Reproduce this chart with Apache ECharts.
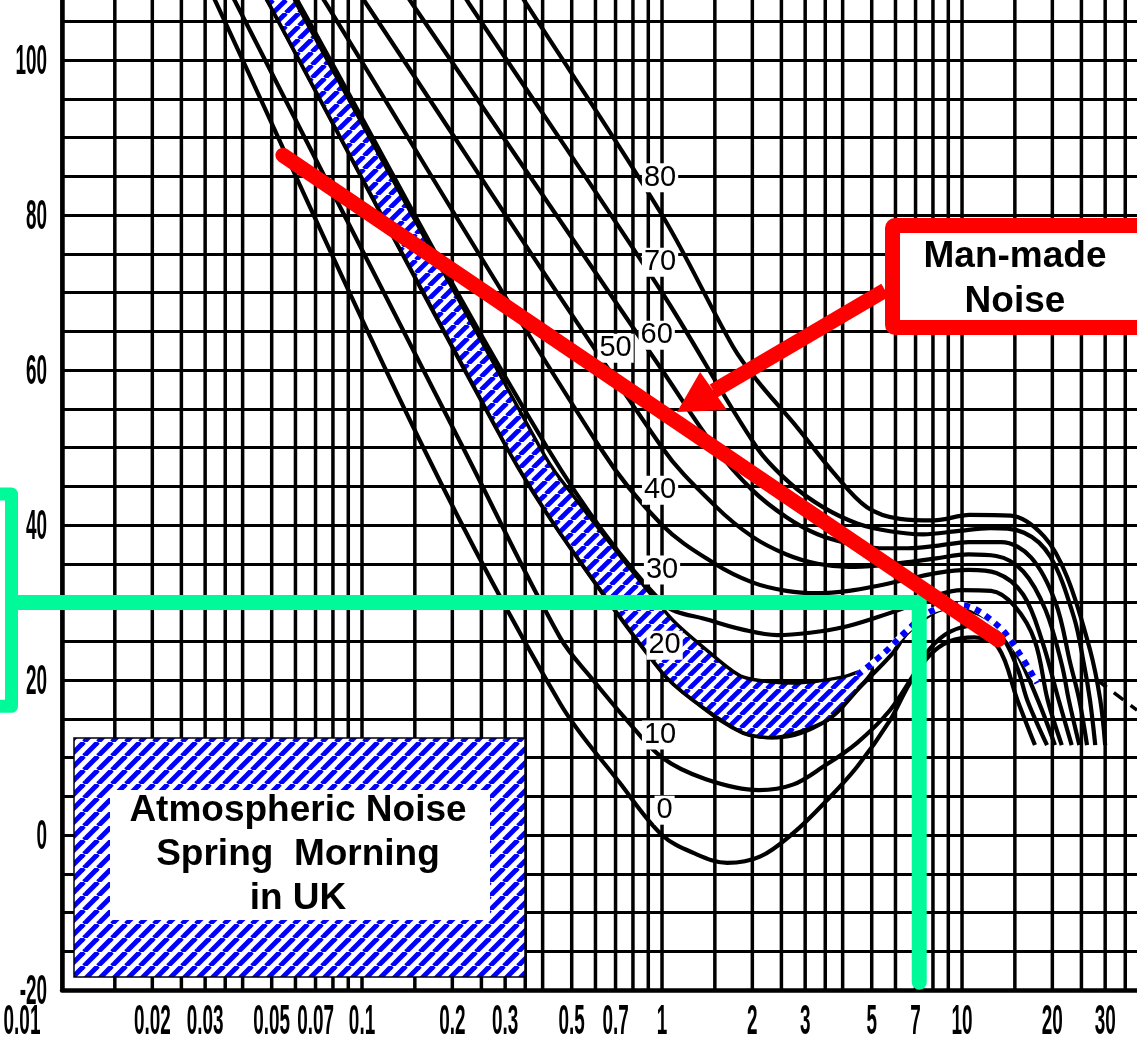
<!DOCTYPE html>
<html><head><meta charset="utf-8">
<script src="https://cdn.jsdelivr.net/npm/echarts@6/dist/echarts.min.js"></script>
<style>html,body{margin:0;padding:0;background:#fff}#c{width:1137px;height:1050px}</style>
</head><body><div id="c"></div>
<script>
// ---------- axis / tick data ----------
const yTicks = [-20, 0, 20, 40, 60, 80, 100];
const xTickValues = [0.01,0.02,0.03,0.05,0.07,0.1,0.2,0.3,0.5,0.7,1,2,3,5,7,10,20,30];
const xTickLabels = ['0.01','0.02','0.03','0.05','0.07','0.1','0.2','0.3','0.5','0.7','1','2','3','5','7','10','20','30'];
const gridMultipliers = [1,1.5,2,2.5,3,3.5,4,5,6,7,8,9];
const gridDecades = [0.01,0.1,1,10];

// ---------- noise curves (frequency MHz, dB) ----------
const curve0  = [[0.0304,110],[0.0329,107.1],[0.16,50],[0.457,17],[0.724,6.7],[1.0,0],[1.27,-2.3],[1.65,-3.6],[2.12,-2.8],[2.73,0.2],[3.55,4.5],[4.47,8.8],[5.75,14.8],[6.7,19.6],[7.8,23.2],[9.1,25],[11,25.5],[13.2,24.2],[15.3,17.4],[17.5,11.6]];
const curve10 = [[0.035,110],[0.0383,107.1],[0.217,50],[0.457,25.5],[0.589,20],[0.764,14.8],[1.0,10],[1.4,7.2],[2.1,5.8],[2.73,6.5],[3.44,8.8],[4.47,11.9],[5.75,16.1],[6.85,20.5],[7.8,24],[9.1,26.2],[11,27],[13.4,25.8],[15.3,21.5],[16.5,17.4],[19.2,11.6]];
const curve20 = [[0.045,110],[0.0493,107.1],[0.304,50],[0.457,39],[1.0,21],[1.27,17.4],[1.86,13.2],[2.42,12.6],[3.55,14.8],[4.57,19.1],[5.89,23.5],[6.54,26.0],[7.8,28.4],[8.9,29.2],[10.1,29.1],[12.7,27.4],[15.0,23.9],[17.9,17.4],[20.4,11.6]];
const curve30 = [[0.0564,110],[0.0621,107.1],[0.414,50],[1.0,30],[1.445,27.7],[1.86,26.5],[2.42,25.8],[3.11,26.1],[4.01,26.8],[5.21,28.1],[6.54,29.4],[8,30.8],[10,31.6],[12.5,31.5],[15,29.5],[17.5,25],[19.3,17.4],[21.5,11.6]];
const curve40 = [[0.0686,110],[0.0764,107.1],[0.621,50],[1.0,40],[1.5,35],[2.0,32.6],[2.6,31.5],[3.3,31.2],[4.2,31.5],[5.3,32.2],[6.6,33],[8.2,33.8],[10.5,34.2],[13,33.8],[16,31],[18.5,25],[21,17.4],[23.2,11.6]];
const curve50 = [[0.0927,110],[0.104,107.1],[1.0,50],[1.5,42.5],[2.0,38.5],[2.6,36.2],[3.3,35],[4.2,34.6],[5.3,34.8],[6.6,35.2],[8.2,35.7],[10.5,36.2],[13,36],[16,34],[19,29],[21.5,22],[22.7,17.4],[24.6,11.6]];
const curve60 = [[0.132,110],[0.148,107.1],[1.0,60],[1.5,50],[2.0,44.5],[2.6,41],[3.3,38.8],[4.2,37.6],[5.3,37],[6.6,37],[8.2,37.3],[10.5,37.8],[13.5,37.8],[17,35.8],[20.5,30],[23,22],[24.6,17.4],[26.1,11.6]];
const curve70 = [[0.206,110],[0.229,107.1],[1.0,70],[2.07,50],[2.67,45.4],[3.44,42.3],[4.47,40.2],[5.75,39.2],[7.41,38.8],[9.62,39.2],[12.4,39.6],[16.1,39],[19.7,35.9],[23.6,28.1],[25.5,22],[26.7,17.4],[27.8,11.6]];
const curve80 = [[0.318,110],[0.355,107.1],[1.0,80],[1.725,63],[2.07,58.7],[2.82,52.6],[3.74,46.7],[4.82,42.3],[6.21,40.8],[8.07,40.6],[10.6,41.3],[14.5,41.2],[18.8,38.5],[22.4,33.3],[26.7,23.9],[28.9,17.4],[30.0,11.6]];
const rightDash = [[28.2,20],[38.3,16.1]];

// curve labels
const curveLabelText = ['0','10','20','30','40','50','60','70','80'];
const curveLabelPos  = [[1.02,3.2],[0.985,12.9],[1.02,24.5],[1.0,34.2],[0.985,44.5],[0.70,62.8],[0.96,64.5],[0.985,73.9],[0.985,84.8]];

// atmospheric noise band (spring morning, UK)
const bandUpper = [[0.0552,110],[0.0607,107.1],[0.392,50],[0.457,46],[1.063,28.1],[1.445,23.5],[1.86,20.4],[2.73,19.6],[4.01,20.4],[5.0,21.6]];
const bandLower = [[0.045,110],[0.0493,107.1],[0.304,50],[0.457,39],[1.0,21],[1.27,17.4],[1.86,13.2],[2.42,12.6],[3.55,14.8],[4.57,19.1],[5.0,21.0]];
const bandTail  = [[4.47,20.6],[5.5,23.5],[6.6,26.5],[7.8,28.8],[9.85,29.7],[13.1,27.1],[15.5,23.5],[17.8,19.6]];

// annotations
const manMadeLine = [[0.0545,87.7],[13.2,25.2]];
const arrowShaft  = [[5.54,70.3],[1.485,57.3]];
const arrowHead   = [[1.122,54.58],[1.339,59.74],[1.647,54.84]];
const greenLine   = [[0.01,30],[7.2,30],[7.2,-19]];
const greenBracketDb = [44.0, 16.6];

// ---------- setup ----------
const X_MIN = 0.01, X_MAX = 38.3, Y_MIN = -20, Y_MAX = 110;
function stripes(period, lw) {
  const c = document.createElement('canvas');
  c.width = period; c.height = period;
  const ctx = c.getContext('2d');
  ctx.fillStyle = '#fff'; ctx.fillRect(0, 0, period, period);
  ctx.strokeStyle = '#0000ff'; ctx.lineWidth = lw;
  for (const k of [-period, 0, period]) {
    ctx.beginPath(); ctx.moveTo(k, period); ctx.lineTo(k + period, 0); ctx.stroke();
  }
  return c;
}
const boxPattern = { image: stripes(14, 5), repeat: 'repeat' };
const bandPattern = { image: stripes(13, 4.8), repeat: 'repeat' };

const gridXs = [];
gridDecades.forEach(d => gridMultipliers.forEach(m => {
  const v = +(d * m).toPrecision(3);
  if (v <= X_MAX) gridXs.push([v, Y_MIN]);
}));

const tickFont = 'bold 42px "Liberation Sans", Arial, sans-serif';
const boxFont = 'bold 37px "Liberation Sans", Arial, sans-serif';
const GREEN = '#00FA9A';

const curves = [curve0, curve10, curve20, curve30, curve40, curve50, curve60, curve70, curve80];
const series = [];

series.push({
  type: 'custom', z: 1, silent: true, clip: false, data: gridXs, encode: { x: 0, y: 1 },
  renderItem: (params, api) => {
    const x = api.value(0);
    const p1 = api.coord([x, Y_MIN]), p2 = api.coord([x, Y_MAX]);
    return { type: 'line', shape: { x1: p1[0], y1: p1[1], x2: p2[0], y2: p2[1] },
             style: { stroke: '#000', lineWidth: 3.5 } };
  }
});

curves.forEach(c => series.push({
  type: 'line', data: c, smooth: 0.35, symbol: 'none', silent: true, z: 2,
  lineStyle: { color: '#000', width: 4.2 }
}));

series.push({
  type: 'line', data: rightDash, symbol: 'none', silent: true, z: 2,
  lineStyle: { color: '#000', width: 3.5, type: [12, 9] }
});

const bandPoly = bandUpper.concat(bandLower.slice().reverse());
series.push({
  type: 'custom', z: 3, silent: true, data: bandPoly, encode: { x: 0, y: 1 },
  renderItem: (params, api) => {
    if (params.dataIndex !== 0) return null;
    const pts = bandPoly.map(p => api.coord(p));
    return { type: 'polygon', shape: { points: pts, smooth: 0.25 },
             style: { fill: bandPattern, stroke: '#000', lineWidth: 3.5 } };
  }
});
series.push({
  type: 'line', data: bandTail, smooth: 0.35, symbol: 'none', silent: true, z: 3,
  lineStyle: { color: '#fff', width: 6 }
});
series.push({
  type: 'line', data: bandTail, smooth: 0.35, symbol: 'none', silent: true, z: 3,
  lineStyle: { color: '#0000ff', width: 6, type: [6, 6] }
});

series.push({
  type: 'scatter', z: 4, silent: true, symbolSize: 1, clip: false,
  itemStyle: { opacity: 0 },
  data: curveLabelPos.map((p, i) => ({ value: p, label: { formatter: curveLabelText[i] } })),
  label: { show: true, position: 'inside', fontSize: 29, color: '#000', opacity: 1,
           fontFamily: '"Liberation Sans", sans-serif', backgroundColor: '#fff', padding: [0, 2] },
  emphasis: { disabled: true }
});

series.push({
  type: 'line', data: greenLine, symbol: 'none', silent: true, z: 5, clip: false,
  lineStyle: { color: GREEN, width: 15, join: 'miter', cap: 'round' }
});

series.push({
  type: 'line', data: manMadeLine, symbol: 'none', silent: true, z: 6,
  lineStyle: { color: '#ff0000', width: 15, cap: 'round' }
});
series.push({
  type: 'line', data: arrowShaft, symbol: 'none', silent: true, z: 6, clip: false,
  lineStyle: { color: '#ff0000', width: 15, cap: 'butt' }
});
series.push({
  type: 'custom', z: 6, silent: true, data: arrowHead, encode: { x: 0, y: 1 },
  renderItem: (params, api) => {
    if (params.dataIndex !== 0) return null;
    return { type: 'polygon', shape: { points: arrowHead.map(p => api.coord(p)) },
             style: { fill: '#ff0000' } };
  }
});

const staticGraphics = [
  { type: 'rect', z: 100, silent: true, shape: { x: 74, y: 738, width: 451, height: 239 },
    style: { fill: boxPattern, stroke: '#000', lineWidth: 1.5 } },
  { type: 'rect', z: 101, silent: true, shape: { x: 110, y: 790, width: 380, height: 130 },
    style: { fill: '#fff' } },
  { type: 'text', z: 102, silent: true, x: 298, y: 855,
    style: { text: 'Atmospheric Noise\nSpring  Morning\nin UK', font: boxFont, fill: '#000',
             align: 'center', verticalAlign: 'middle', lineHeight: 44 } },
  { type: 'rect', z: 100, silent: true, shape: { x: 885, y: 218, width: 290, height: 117, r: 10 },
    style: { fill: '#ff0000' } },
  { type: 'rect', z: 101, silent: true, shape: { x: 900, y: 233, width: 270, height: 87 },
    style: { fill: '#fff' } },
  { type: 'text', z: 102, silent: true, x: 1015, y: 279,
    style: { text: 'Man-made\nNoise', font: boxFont, fill: '#000',
             align: 'center', verticalAlign: 'middle', lineHeight: 45 } }
];

const chart = echarts.init(document.getElementById('c'), null, { renderer: 'canvas' });
chart.setOption({
  animation: false,
  backgroundColor: '#fff',
  grid: { left: 62, right: 0, top: -17.5, bottom: 60, containLabel: false, outerBoundsMode: 'none' },
  xAxis: {
    type: 'log', logBase: 10, min: X_MIN, max: X_MAX,
    axisLine: { show: true, onZero: false, lineStyle: { color: '#000', width: 4.5 } },
    axisTick: { show: false }, axisLabel: { show: false }, splitLine: { show: false }
  },
  yAxis: {
    type: 'value', min: Y_MIN, max: Y_MAX, interval: 5,
    axisLine: { show: true, onZero: false, lineStyle: { color: '#000', width: 4.5 } },
    axisTick: { show: false },
    axisLabel: { show: false },
    splitLine: { show: true, lineStyle: { color: '#000', width: 3.2 } }
  },
  series: series,
  graphic: staticGraphics
});

// tick labels (condensed, tall lettering) and the green bracket, placed through the axes
const px = (x, y) => chart.convertToPixel({ gridIndex: 0 }, [x, y]);
const extra = [];
xTickValues.forEach((v, i) => {
  const p = px(v, Y_MIN);
  extra.push({ type: 'text', z: 50, silent: true, x: p[0] + (i === 0 ? -40 : 0), y: p[1] + 32, scaleX: 0.45,
    style: { text: xTickLabels[i], font: tickFont, fill: '#000', align: 'center', verticalAlign: 'middle' } });
});
yTicks.forEach(v => {
  const p = px(X_MIN, v);
  extra.push({ type: 'text', z: 50, silent: true, x: p[0] - 15, y: p[1] + 2, scaleX: 0.45,
    style: { text: String(v), font: tickFont, fill: '#000', align: 'right', verticalAlign: 'middle' } });
});
const pL = px(X_MIN, 30), pTop = px(X_MIN, greenBracketDb[0]), pBot = px(X_MIN, greenBracketDb[1]);
const bx = pL[0] - 50.5;
extra.push({ type: 'line', z: 60, silent: true, shape: { x1: bx, y1: pL[1], x2: pL[0] + 2, y2: pL[1] },
  style: { stroke: GREEN, lineWidth: 15 } });
extra.push({ type: 'polyline', z: 60, silent: true,
  shape: { points: [[bx - 20, pTop[1]], [bx, pTop[1]], [bx, pBot[1]], [bx - 20, pBot[1]]] },
  style: { stroke: GREEN, lineWidth: 13, lineJoin: 'round', fill: null } });
chart.setOption({ graphic: staticGraphics.concat(extra) });
</script>
</body></html>
